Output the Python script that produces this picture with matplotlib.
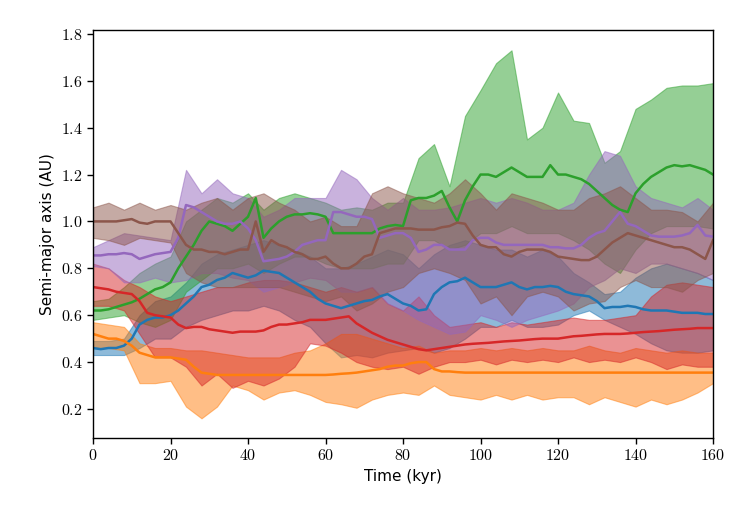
import matplotlib
matplotlib.use("Agg")
import matplotlib.pyplot as plt
from matplotlib.ticker import FuncFormatter

plt.rcParams['mathtext.fontset'] = 'cm'
plt.rcParams['font.family'] = ['DejaVu Sans']

# time grids (kyr)
time_med = list(range(0, 161, 2))
time_band = list(range(0, 161, 4))

# ---- median lines (2 kyr spacing) ----
blue_med = [0.46, 0.455, 0.46, 0.46, 0.47, 0.50, 0.56, 0.58, 0.59, 0.59, 0.60, 0.62, 0.65, 0.68, 0.72, 0.73, 0.75, 0.76, 0.78, 0.77,
            0.76, 0.77, 0.79, 0.785, 0.78, 0.76, 0.74, 0.72, 0.70, 0.67, 0.65, 0.64, 0.63, 0.64, 0.65, 0.66, 0.665, 0.68, 0.69, 0.67,
            0.65, 0.64, 0.62, 0.625, 0.69, 0.72, 0.74, 0.745, 0.76, 0.74, 0.72, 0.72, 0.72, 0.73, 0.74, 0.72, 0.71, 0.72, 0.72, 0.725,
            0.72, 0.70, 0.69, 0.685, 0.68, 0.66, 0.63, 0.635, 0.635, 0.64, 0.635, 0.625, 0.62, 0.62, 0.62, 0.615, 0.61, 0.61, 0.61, 0.605,
            0.605]
orange_med = [0.52, 0.51, 0.50, 0.50, 0.49, 0.47, 0.44, 0.43, 0.42, 0.42, 0.42, 0.415, 0.41, 0.38, 0.355, 0.35, 0.345, 0.345, 0.345, 0.345,
              0.345, 0.345, 0.345, 0.345, 0.345, 0.345, 0.345, 0.345, 0.345, 0.345, 0.345, 0.347, 0.35, 0.352, 0.355, 0.36, 0.365, 0.37, 0.38, 0.385,
              0.385, 0.395, 0.40, 0.40, 0.37, 0.36, 0.36, 0.357, 0.355, 0.355, 0.355, 0.355, 0.355, 0.355, 0.355, 0.355, 0.355, 0.355, 0.355, 0.355,
              0.355, 0.355, 0.355, 0.355, 0.355, 0.355, 0.355, 0.355, 0.355, 0.355, 0.355, 0.355, 0.355, 0.355, 0.355, 0.355, 0.355, 0.355, 0.355, 0.355,
              0.355]
green_med = [0.62, 0.62, 0.625, 0.635, 0.645, 0.655, 0.67, 0.69, 0.71, 0.72, 0.74, 0.80, 0.85, 0.90, 0.96, 1.00, 0.99, 0.98, 0.96, 0.99,
             1.02, 1.10, 0.93, 0.97, 1.00, 1.02, 1.03, 1.03, 1.035, 1.03, 1.02, 0.95, 0.95, 0.95, 0.95, 0.95, 0.95, 0.97, 0.98, 0.985,
             0.98, 1.09, 1.10, 1.10, 1.11, 1.13, 1.06, 1.00, 1.09, 1.15, 1.20, 1.20, 1.19, 1.21, 1.23, 1.21, 1.19, 1.19, 1.19, 1.24,
             1.20, 1.20, 1.19, 1.18, 1.16, 1.13, 1.10, 1.07, 1.05, 1.04, 1.12, 1.16, 1.19, 1.21, 1.23, 1.24, 1.235, 1.24, 1.23, 1.22,
             1.20]
red_med = [0.72, 0.715, 0.71, 0.70, 0.695, 0.69, 0.66, 0.61, 0.60, 0.595, 0.59, 0.56, 0.545, 0.55, 0.55, 0.54, 0.535, 0.53, 0.525, 0.53,
           0.53, 0.53, 0.535, 0.55, 0.56, 0.56, 0.565, 0.57, 0.58, 0.58, 0.58, 0.585, 0.59, 0.595, 0.565, 0.545, 0.525, 0.51, 0.495, 0.485,
           0.475, 0.465, 0.455, 0.45, 0.455, 0.46, 0.465, 0.47, 0.475, 0.478, 0.48, 0.482, 0.485, 0.488, 0.49, 0.492, 0.495, 0.498, 0.50, 0.50,
           0.50, 0.505, 0.51, 0.512, 0.515, 0.518, 0.52, 0.52, 0.52, 0.522, 0.525, 0.528, 0.53, 0.532, 0.535, 0.538, 0.54, 0.542, 0.545, 0.545,
           0.545]
purple_med = [0.855, 0.855, 0.86, 0.86, 0.865, 0.86, 0.84, 0.85, 0.86, 0.865, 0.87, 0.93, 1.07, 1.06, 1.04, 1.02, 1.00, 0.99, 0.99, 1.00,
              0.97, 0.92, 0.83, 0.835, 0.84, 0.85, 0.87, 0.90, 0.91, 0.92, 0.92, 1.04, 1.04, 1.03, 1.02, 1.02, 1.01, 0.93, 0.94, 0.95,
              0.95, 0.93, 0.87, 0.88, 0.90, 0.90, 0.88, 0.88, 0.88, 0.92, 0.93, 0.93, 0.91, 0.90, 0.90, 0.90, 0.90, 0.90, 0.90, 0.89,
              0.89, 0.885, 0.885, 0.90, 0.93, 0.95, 0.96, 1.00, 1.04, 0.99, 0.98, 0.96, 0.94, 0.935, 0.935, 0.935, 0.94, 0.95, 0.985, 0.94,
              0.935]
brown_med = [1.00, 1.00, 1.00, 1.00, 1.005, 1.01, 0.995, 0.99, 1.00, 1.00, 1.00, 0.95, 0.90, 0.88, 0.88, 0.87, 0.87, 0.86, 0.87, 0.88,
             0.88, 1.00, 0.87, 0.92, 0.90, 0.89, 0.87, 0.86, 0.84, 0.84, 0.85, 0.82, 0.80, 0.80, 0.82, 0.85, 0.86, 0.95, 0.96, 0.97,
             0.97, 0.97, 0.965, 0.965, 0.965, 0.975, 0.98, 0.995, 0.99, 0.94, 0.90, 0.89, 0.89, 0.86, 0.85, 0.87, 0.88, 0.88, 0.88, 0.87,
             0.85, 0.845, 0.84, 0.835, 0.835, 0.85, 0.88, 0.91, 0.93, 0.95, 0.94, 0.93, 0.92, 0.91, 0.90, 0.89, 0.89, 0.88, 0.86, 0.84,
             0.92]

# ---- spread bands (4 kyr spacing) ----
blue_lo = [0.43, 0.43, 0.43, 0.46, 0.50, 0.50, 0.55, 0.58, 0.60, 0.62, 0.62, 0.64, 0.62, 0.58, 0.55, 0.48, 0.42, 0.43, 0.42, 0.44, 0.45,
           0.46, 0.44, 0.46, 0.50, 0.55, 0.55, 0.58, 0.55, 0.55, 0.56, 0.60, 0.62, 0.58, 0.55, 0.52, 0.48, 0.45, 0.44, 0.44, 0.45]
blue_hi = [0.49, 0.49, 0.50, 0.60, 0.66, 0.68, 0.74, 0.82, 0.86, 0.88, 0.90, 0.92, 0.90, 0.88, 0.85, 0.80, 0.80, 0.82, 0.85, 0.88, 0.86,
           0.80, 0.86, 0.90, 0.92, 0.90, 0.88, 0.88, 0.85, 0.88, 0.85, 0.78, 0.74, 0.69, 0.70, 0.76, 0.80, 0.82, 0.80, 0.78, 0.75]
orange_lo = [0.46, 0.46, 0.45, 0.31, 0.31, 0.32, 0.21, 0.16, 0.21, 0.30, 0.28, 0.24, 0.27, 0.28, 0.26, 0.23, 0.22, 0.205, 0.24, 0.26, 0.27,
             0.26, 0.30, 0.26, 0.25, 0.24, 0.26, 0.24, 0.26, 0.24, 0.25, 0.25, 0.22, 0.25, 0.23, 0.21, 0.24, 0.22, 0.24, 0.27, 0.31]
orange_hi = [0.57, 0.56, 0.55, 0.48, 0.46, 0.46, 0.45, 0.45, 0.44, 0.43, 0.42, 0.42, 0.42, 0.44, 0.45, 0.48, 0.52, 0.52, 0.50, 0.48, 0.46,
             0.47, 0.44, 0.45, 0.45, 0.46, 0.45, 0.46, 0.45, 0.46, 0.45, 0.45, 0.47, 0.45, 0.44, 0.46, 0.45, 0.44, 0.45, 0.44, 0.44]
green_lo = [0.58, 0.59, 0.60, 0.57, 0.55, 0.58, 0.70, 0.75, 0.80, 0.80, 0.82, 0.78, 0.82, 0.85, 0.85, 0.82, 0.80, 0.80, 0.80, 0.82, 0.82,
            0.92, 0.92, 0.88, 0.90, 0.95, 0.95, 0.98, 0.95, 0.95, 0.95, 0.92, 0.88, 0.82, 0.78, 0.88, 0.95, 0.98, 0.98, 0.98, 0.97]
green_hi = [0.66, 0.67, 0.72, 0.78, 0.82, 0.85, 1.00, 1.05, 1.10, 1.08, 1.12, 1.05, 1.10, 1.12, 1.10, 1.08, 1.05, 1.06, 1.05, 1.08, 1.08,
            1.27, 1.33, 1.15, 1.45, 1.56, 1.675, 1.73, 1.35, 1.40, 1.55, 1.43, 1.42, 1.25, 1.30, 1.48, 1.52, 1.57, 1.58, 1.58, 1.59]
red_lo = [0.64, 0.64, 0.62, 0.52, 0.42, 0.42, 0.38, 0.30, 0.35, 0.29, 0.32, 0.30, 0.33, 0.38, 0.48, 0.47, 0.44, 0.40, 0.38, 0.37, 0.38,
          0.35, 0.38, 0.40, 0.40, 0.41, 0.39, 0.41, 0.40, 0.41, 0.40, 0.42, 0.40, 0.41, 0.40, 0.42, 0.40, 0.37, 0.39, 0.38, 0.38]
red_hi = [0.82, 0.80, 0.75, 0.72, 0.68, 0.66, 0.68, 0.70, 0.72, 0.72, 0.74, 0.75, 0.75, 0.74, 0.72, 0.70, 0.72, 0.70, 0.72, 0.65, 0.62,
          0.68, 0.60, 0.55, 0.56, 0.57, 0.55, 0.57, 0.56, 0.57, 0.58, 0.59, 0.58, 0.58, 0.59, 0.60, 0.68, 0.73, 0.74, 0.73, 0.72]
purple_lo = [0.81, 0.80, 0.74, 0.74, 0.76, 0.74, 0.75, 0.78, 0.78, 0.76, 0.75, 0.70, 0.72, 0.74, 0.76, 0.75, 0.70, 0.70, 0.72, 0.65, 0.62,
             0.58, 0.55, 0.52, 0.53, 0.60, 0.58, 0.55, 0.58, 0.60, 0.62, 0.65, 0.72, 0.75, 0.80, 0.78, 0.82, 0.82, 0.80, 0.78, 0.75]
purple_hi = [0.89, 0.92, 0.95, 0.94, 0.93, 0.92, 1.22, 1.12, 1.18, 1.12, 1.10, 1.02, 1.05, 1.10, 1.10, 1.10, 1.22, 1.18, 1.10, 1.05, 1.10,
             1.05, 1.05, 1.06, 1.08, 1.10, 1.08, 1.10, 1.08, 1.05, 1.05, 1.08, 1.20, 1.30, 1.28, 1.15, 1.10, 1.08, 1.06, 1.10, 1.05]
brown_lo = [0.93, 0.92, 0.90, 0.93, 0.92, 0.91, 0.78, 0.74, 0.72, 0.72, 0.72, 0.72, 0.72, 0.70, 0.68, 0.66, 0.68, 0.62, 0.65, 0.70, 0.72,
            0.78, 0.80, 0.78, 0.75, 0.65, 0.68, 0.60, 0.68, 0.70, 0.68, 0.62, 0.65, 0.66, 0.72, 0.75, 0.72, 0.72, 0.70, 0.75, 0.78]
brown_hi = [1.06, 1.08, 1.05, 1.08, 1.05, 1.07, 1.05, 1.08, 1.10, 1.05, 1.10, 1.12, 1.08, 1.05, 1.00, 1.02, 0.98, 0.98, 1.12, 1.15, 1.12,
            1.10, 1.08, 1.12, 1.18, 1.12, 1.05, 1.12, 1.10, 1.08, 1.05, 1.05, 1.10, 1.12, 1.15, 1.10, 1.05, 1.05, 1.04, 1.00, 1.08]

series = [
    (blue_med, blue_lo, blue_hi, '#1f77b4'),
    (orange_med, orange_lo, orange_hi, '#ff7f0e'),
    (green_med, green_lo, green_hi, '#2ca02c'),
    (red_med, red_lo, red_hi, '#d62728'),
    (purple_med, purple_lo, purple_hi, '#9467bd'),
    (brown_med, brown_lo, brown_hi, '#8c564b'),
]

fig = plt.figure(figsize=(7.5, 5.25), dpi=100)
ax = fig.add_axes([0.124, 0.1657, 0.8267, 0.7773])

for med, lo, hi, col in series:
    ax.fill_between(time_band, lo, hi, color=col, alpha=0.5, linewidth=0.8, zorder=1)
for med, lo, hi, col in series:
    ax.plot(time_med, med, color=col, linewidth=1.8, zorder=2)

ax.set_xlim(0, 160)
ax.set_ylim(0.076, 1.817)
ax.set_xticks([0, 20, 40, 60, 80, 100, 120, 140, 160])
ax.set_yticks([0.2, 0.4, 0.6, 0.8, 1.0, 1.2, 1.4, 1.6, 1.8])
ax.xaxis.set_major_formatter(FuncFormatter(lambda v, p: r'$%d$' % int(round(v))))
ax.yaxis.set_major_formatter(FuncFormatter(lambda v, p: r'$%.1f$' % v))
ax.tick_params(labelsize=11.5, direction='out', length=4, width=1)
ax.set_xlabel('Time (kyr)', fontsize=11)
ax.set_ylabel('Semi-major axis (AU)', fontsize=11)
for s in ax.spines.values():
    s.set_linewidth(1.0)

fig.savefig('out.png', dpi=100)
